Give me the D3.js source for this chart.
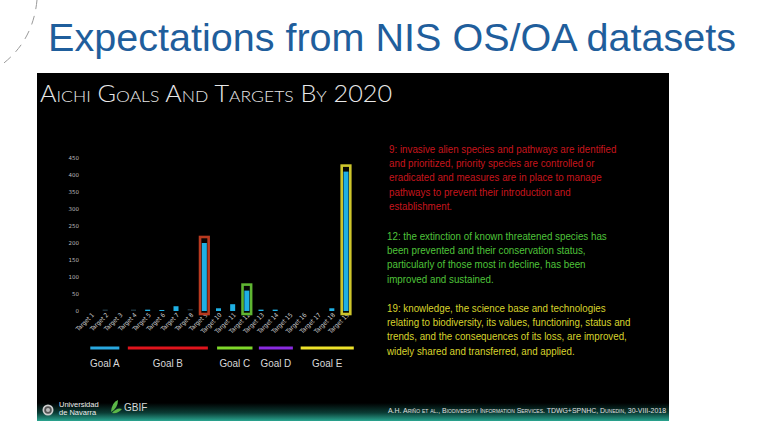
<!DOCTYPE html>
<html>
<head>
<meta charset="utf-8">
<script src="https://cdn.jsdelivr.net/npm/d3@7"></script>
<style>
  body { margin: 0; background: #fff; }
  svg { display: block; }
</style>
</head>
<body>
<div id="slide"></div>
<script>
// values
var targets = ["Target 1", "Target 2", "Target 3", "Target 4", "Target 5", "Target 6", "Target 7",
    "Target 8", "Target 9", "Target 10", "Target 11", "Target 12", "Target 13", "Target 14",
    "Target 15", "Target 16", "Target 17", "Target 18", "Target 19"];
var counts = [0, 1, 0, 1, 4, 3, 14, 2, 200, 8, 20, 60, 4, 4, 0, 0, 0, 8, 410];
var yTicks = [0, 50, 100, 150, 200, 250, 300, 350, 400, 450];

var highlightTargets = ["Target 9", "Target 12", "Target 19"];
var highlightColors = ["#b8391f", "#5fb532", "#cdc52b"];

var goalNames = ["Goal A", "Goal B", "Goal C", "Goal D", "Goal E"];
var goalColors = ["#29a8e0", "#e0141c", "#7fd82a", "#8a2be0", "#eee32a"];
// line extents in target units (slide lines sit under the rotated labels)
var goalFrom = [0.95, 3.6, 9.9, 12.85, 15.8];
var goalTo = [3.0, 9.25, 12.4, 15.25, 19.55];

var notes = [
    { color: "#c8151d", lines: [
        "9: invasive alien species and pathways are identified",
        "and prioritized, priority species are controlled or",
        "eradicated and measures are in place to manage",
        "pathways to prevent their introduction and",
        "establishment."] },
    { color: "#4fc43a", lines: [
        "12: the extinction of known threatened species has",
        "been prevented and their conservation status,",
        "particularly of those most in decline, has been",
        "improved and sustained."] },
    { color: "#d8d42c", lines: [
        "19: knowledge, the science base and technologies",
        "relating to biodiversity, its values, functioning, status and",
        "trends, and the consequences of its loss, are improved,",
        "widely shared and transferred, and applied."] }
];

var W = 764, H = 428;
var svg = d3.select("#slide").append("svg")
    .attr("width", W)
    .attr("height", H);

var defs = svg.append("defs");
var grad = defs.append("linearGradient")
    .attr("id", "foot").attr("x1", 0).attr("y1", 0).attr("x2", 0).attr("y2", 1);
grad.append("stop").attr("offset", "0%").attr("stop-color", "#000");
grad.append("stop").attr("offset", "55%").attr("stop-color", "#0b3d36");
grad.append("stop").attr("offset", "100%").attr("stop-color", "#2aa590");

svg.append("rect").attr("width", W).attr("height", H).attr("fill", "#fff");

// dashed arc top-left
svg.append("path")
    .attr("d", "M37,0 Q33,42 0,66")
    .attr("fill", "none")
    .attr("stroke", "#9a9a9a")
    .attr("stroke-width", 1)
    .attr("stroke-dasharray", "9,7");

// slide title
svg.append("text")
    .attr("x", 48).attr("y", 51)
    .attr("font-family", "Liberation Sans, Arial, sans-serif")
    .attr("font-size", 39)
    .attr("fill", "#1f5e9c")
    .attr("textLength", 688)
    .attr("lengthAdjust", "spacingAndGlyphs")
    .text("Expectations from NIS OS/OA datasets");

// black panel
var panel = { x: 37, y: 73, w: 632, h: 348 };
svg.append("rect")
    .attr("x", panel.x).attr("y", panel.y)
    .attr("width", panel.w).attr("height", panel.h)
    .attr("fill", "#000");
svg.append("rect")
    .attr("x", panel.x).attr("y", 403)
    .attr("width", panel.w).attr("height", 18)
    .attr("fill", "url(#foot)");

svg.append("text")
    .attr("x", 40).attr("y", 102)
    .attr("font-family", "Lato, Open Sans, sans-serif")
    .attr("font-weight", 300)
    .attr("font-size", 23)
    .style("font-variant", "small-caps")
    .attr("fill", "#e8e8e8")
    .attr("textLength", 352)
    .attr("lengthAdjust", "spacingAndGlyphs")
    .text("Aichi Goals And Targets By 2020");

// chart
var xScale = d3.scalePoint()
    .domain(targets)
    .range([91, 346]);
var xNum = d3.scaleLinear()
    .domain([1, targets.length])
    .range([91, 346]);
var yScale = d3.scaleLinear()
    .domain([0, 450])
    .range([311, 158]);
var barW = 5;

var yAxis = d3.axisLeft(yScale)
    .tickValues(yTicks)
    .tickSize(0)
    .tickPadding(0);
svg.append("g")
    .attr("transform", "translate(79,0)")
    .call(yAxis)
    .call(g => g.select(".domain").remove())
    .selectAll("text")
    .attr("fill", "#bbb")
    .attr("font-size", 5.5)
    .attr("font-family", "DejaVu Sans, sans-serif");

var xAxis = d3.axisBottom(xScale)
    .tickSize(0)
    .tickPadding(0);
svg.append("g")
    .attr("transform", "translate(0,314)")
    .call(xAxis)
    .call(g => g.select(".domain").remove())
    .selectAll("text")
    .attr("fill", "#cfcfcf")
    .attr("font-size", 6.3)
    .attr("font-family", "DejaVu Sans Condensed, DejaVu Sans, sans-serif")
    .style("text-anchor", "end")
    .attr("dx", "0.2em")
    .attr("dy", "0.5em")
    .attr("transform", "rotate(-45)");

var data = targets.map((t, i) => ({ key: t, value: counts[i] }));

// highlight boxes behind bars
svg.selectAll(".hl").data(highlightTargets)
    .enter()
    .append("rect")
    .attr("class", "hl")
    .attr("x", d => xScale(d) - 4.3)
    .attr("width", 8.6)
    .attr("y", d => yScale(counts[targets.indexOf(d)]) - 6)
    .attr("height", d => yScale(0) + 3 - (yScale(counts[targets.indexOf(d)]) - 6))
    .attr("fill", "#050505")
    .attr("stroke", (d, i) => highlightColors[i])
    .attr("stroke-width", 2.6);

svg.selectAll(".bar").data(data)
    .enter()
    .append("rect")
    .attr("class", "bar")
    .attr("x", d => xScale(d.key) - barW / 2)
    .attr("width", barW)
    .attr("y", d => yScale(d.value) - (d.value > 0 && d.value < 3 ? 1 : 0))
    .attr("height", d => d.value > 0 ? Math.max(yScale(0) - yScale(d.value), 1) : 0)
    .attr("fill", d => d.value < 3 ? "#2b4a5a" : "#1fb0e4");

// goal lines
svg.selectAll(".goal").data(goalNames)
    .enter()
    .append("line")
    .attr("class", "goal")
    .attr("x1", (d, i) => xNum(goalFrom[i]))
    .attr("x2", (d, i) => xNum(goalTo[i]))
    .attr("y1", 348).attr("y2", 348)
    .attr("stroke", (d, i) => goalColors[i])
    .attr("stroke-width", 3);

svg.selectAll(".goalLabel").data(goalNames)
    .enter()
    .append("text")
    .attr("class", "goalLabel")
    .attr("x", (d, i) => (xNum(goalFrom[i]) + xNum(goalTo[i])) / 2)
    .attr("y", 367)
    .attr("text-anchor", "middle")
    .attr("font-family", "Liberation Sans, Arial, sans-serif")
    .attr("font-size", 11)
    .attr("fill", "#d8d8d8")
    .attr("transform", (d, i) => {
        var cx = (xNum(goalFrom[i]) + xNum(goalTo[i])) / 2;
        return "translate(" + cx + ",0) scale(0.9,1) translate(" + (-cx) + ",0)";
    })
    .text(d => d);

// notes on the right (slide font is narrow, so squeeze horizontally)
var noteTop = [149, 236, 308];
var lineH = 14.3;
notes.forEach(function (n, k) {
    var x0 = k === 0 ? 389 : 387;
    svg.append("g")
        .attr("transform", "translate(" + x0 + ",0) scale(0.89,1)")
        .selectAll("text").data(n.lines)
        .enter()
        .append("text")
        .attr("x", 0)
        .attr("y", (d, i) => noteTop[k] + i * lineH)
        .attr("dy", "0.35em")
        .attr("font-family", "Liberation Sans, Arial, sans-serif")
        .attr("font-size", 11)
        .attr("fill", n.color)
        .text(d => d);
});

// footer: logos and credit
var seal = svg.append("g").attr("transform", "translate(48,410)");
seal.append("circle").attr("r", 5.5).attr("fill", "#cfcfcf");
seal.append("circle").attr("r", 3.8).attr("fill", "#555");
seal.append("circle").attr("r", 2).attr("fill", "#bbb");
svg.append("text")
    .attr("x", 59).attr("y", 407)
    .attr("font-family", "Liberation Sans, sans-serif")
    .attr("font-size", 7.5).attr("fill", "#eee")
    .text("Universidad");
svg.append("text")
    .attr("x", 59).attr("y", 414.5)
    .attr("font-family", "Liberation Sans, sans-serif")
    .attr("font-size", 7.5).attr("fill", "#eee")
    .text("de Navarra");
svg.append("path")
    .attr("d", "M111,412 Q112,402 118,400 Q118,408 111,412 Z M112,413 Q117,407 122,409 Q118,414 112,413 Z")
    .attr("fill", "#5cb847");
svg.append("text")
    .attr("x", 124).attr("y", 411)
    .attr("font-family", "Liberation Sans, sans-serif")
    .attr("font-size", 10).attr("fill", "#d8d8d8")
    .text("GBIF");

svg.append("text")
    .attr("x", 388).attr("y", 413)
    .attr("font-family", "Liberation Sans, sans-serif")
    .attr("font-size", 7)
    .style("font-variant", "small-caps")
    .attr("fill", "#e0e0e0")
    .attr("textLength", 278)
    .attr("lengthAdjust", "spacingAndGlyphs")
    .text("A.H. Ariño et al., Biodiversity Information Services. TDWG+SPNHC, Dunedin, 30-VIII-2018");
</script>
</body>
</html>
